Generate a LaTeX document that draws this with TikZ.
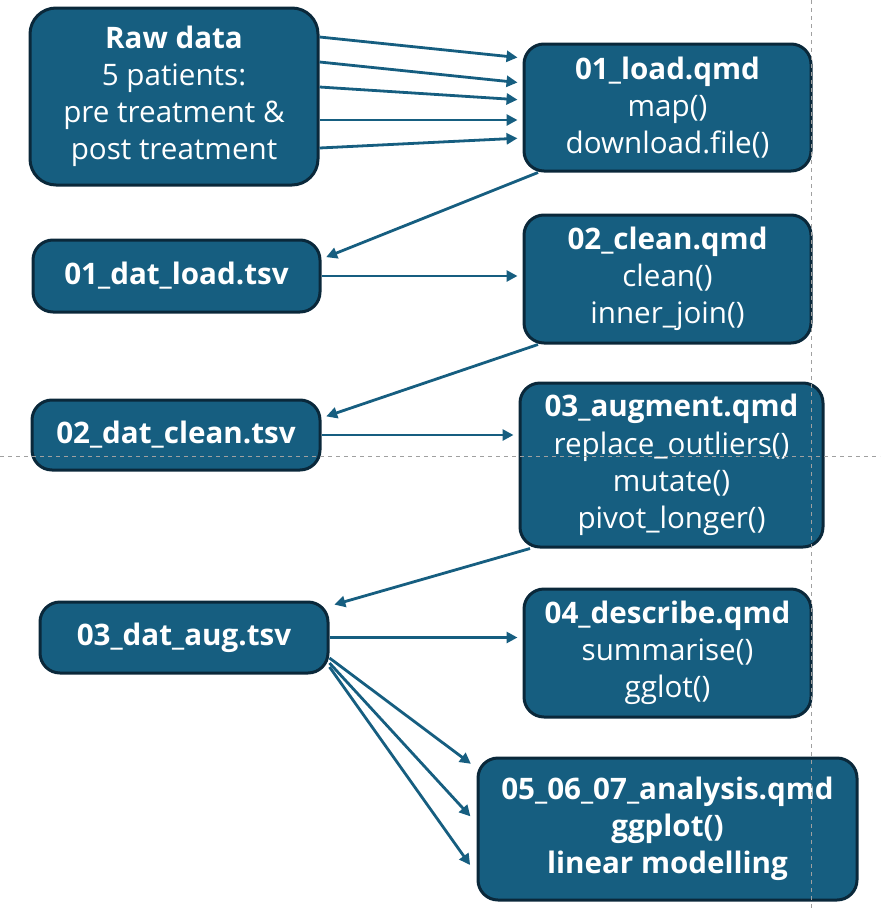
\documentclass[tikz,border=0pt]{standalone}
\usepackage{fontspec}
\setmainfont{Open Sans}
\usetikzlibrary{arrows.meta}
\definecolor{boxblue}{RGB}{22,94,128}
\definecolor{boxedge}{RGB}{10,40,58}
\definecolor{guidegray}{RGB}{160,160,160}

\begin{document}
\begin{tikzpicture} [x=0.5pt, y=-0.5pt,
                    stage/.style={rounded corners=10pt,draw=boxedge,line width=1.5pt,fill=boxblue,
                                  text=white,align=center,inner sep=0pt,
                                  font=\fontsize{14.8}{18.6}\selectfont},
                    flow/.style={draw=boxblue,line width=1.4pt,-{Triangle[length=5.5pt,width=5.5pt]},shorten >=2.5pt},
                    guide/.style={draw=guidegray,line width=0.5pt,dash pattern=on 2pt off 2pt}]

\useasboundingbox (0,0) rectangle (880,910);

\node[stage,rounded corners=13pt,minimum width=144pt,minimum height=88.5pt] (Raw) at (174,96.5)
    {\textbf{Raw data}\\5 patients:\\pre treatment \&\\post treatment};
\node[stage,minimum width=143.5pt,minimum height=63.5pt] (Load) at (667.5,107.5)
    {\textbf{01\_load.qmd}\\map()\\download.file()};
\node[stage,minimum width=143.5pt,minimum height=36pt] (DatLoad) at (176.5,276)
    {\textbf{01\_dat\_load.tsv}};
\node[stage,minimum width=143.5pt,minimum height=64pt] (Clean) at (667.5,279)
    {\textbf{02\_clean.qmd}\\clean()\\inner\_join()};
\node[stage,minimum width=144pt,minimum height=35pt] (DatClean) at (176,435)
    {\textbf{02\_dat\_clean.tsv}};
\node[stage,minimum width=151.5pt,minimum height=82pt] (Augment) at (671.5,465)
    {\textbf{03\_augment.qmd}\\replace\_outliers()\\mutate()\\pivot\_longer()};
\node[stage,minimum width=144pt,minimum height=35.5pt] (DatAug) at (184,637.5)
    {\textbf{03\_dat\_aug.tsv}};
\node[stage,minimum width=143.5pt,minimum height=64pt] (Describe) at (667.5,653)
    {\textbf{04\_describe.qmd}\\summarise()\\gglot()};
\node[stage,minimum width=189.5pt,minimum height=71pt] (Analysis) at (667.5,829)
    {\textbf{05\_06\_07\_analysis.qmd}\\\textbf{ggplot()}\\\textbf{linear modelling}};

% raw data into the loading script
\draw[flow] ([yshift=29.75pt]Raw.east) -- ([yshift=24.75pt]Load.west);
\draw[flow] ([yshift=17.25pt]Raw.east) -- ([yshift=12.25pt]Load.west);
\draw[flow] ([yshift=4.75pt]Raw.east) -- ([yshift=3.75pt]Load.west);
\draw[flow] ([yshift=-11.75pt]Raw.east) -- ([yshift=-11.75pt]Raw.east -| Load.west);
\draw[flow] ([yshift=-25.75pt]Raw.east) -- ([yshift=-15.25pt]Load.west);

% scripts and their outputs
\draw[flow] ([xshift=-64.75pt]Load.south) -- ([yshift=8.5pt]DatLoad.east);
\draw[flow] (DatLoad.east) -- (DatLoad.east -| Clean.west);
\draw[flow] ([xshift=-64.75pt]Clean.south) -- ([yshift=8.5pt]DatClean.east);
\draw[flow] (DatClean.east) -- (DatClean.east -| Augment.west);
\draw[flow] ([xshift=-70.75pt]Augment.south) -- ([yshift=15.75pt]DatAug.east);
\draw[flow] (DatAug.east) -- (DatAug.east -| Describe.west);

\draw[flow,shorten >=3.5pt] ([yshift=-10.25pt]DatAug.east) -- ([yshift=30.5pt]Analysis.west);
\draw[flow,shorten >=4.5pt] ([yshift=-12.75pt]DatAug.east) -- ([yshift=3pt]Analysis.west);
\draw[flow,shorten >=5.5pt] ([yshift=-14.75pt]DatAug.east) -- ([yshift=-22.5pt]Analysis.west);

% slide guides
\draw[guide] (811,0) -- (811,910);
\draw[guide] (0,456) -- (880,456);
\end{tikzpicture}
\end{document}
